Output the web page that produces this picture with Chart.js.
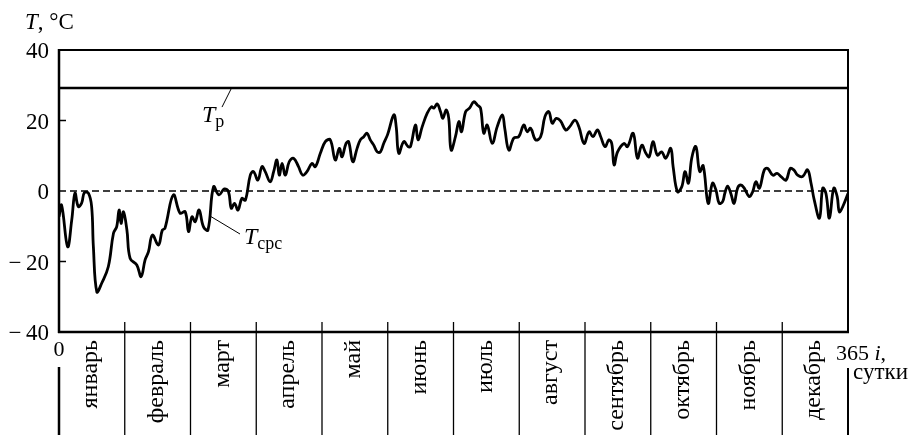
<!DOCTYPE html>
<html lang="ru">
<head>
<meta charset="utf-8">
<title>Температура по суткам</title>
<script src="https://cdn.jsdelivr.net/npm/chart.js@4.4.1/dist/chart.umd.min.js"></script>
<style>
  html, body { margin: 0; padding: 0; background: #fff; }
  #wrap { width: 913px; height: 435px; }
</style>
</head>
<body>
<div id="wrap"><canvas id="tempChart" width="913" height="435"></canvas></div>
<script>
// day of year (i, сутки) and daily mean temperature T_срс, °C
const days = [
  0, 1.2, 4, 5.9, 7.4, 8.9, 10.5, 11.7, 13.6, 15.1, 15.9, 17.5, 19.8, 22.8, 25.2, 26.7,
  27.8, 28.7, 29.8, 31.4, 32.9, 36, 38, 39.8, 41.4, 43.2, 46, 47.8, 49, 52.9, 56, 58.4,
  59.9, 61.5, 63, 64.8, 66.8, 68.9, 71.5, 74, 76.5, 78.4, 79.7, 81.2, 82.8, 84.6, 86.2,
  88.5, 90, 92, 93.9, 95.4, 97.7, 99.3, 100.8, 101.9, 103.2, 104.7, 106.5, 108.5, 110.8,
  112.7, 114.7, 117, 118.6, 120.9, 123.2, 125.5, 127.8, 129.7, 130.9, 132.8, 134, 135.9,
  137.9, 139.4, 141, 142.5, 144, 145.6, 147.2, 148.7, 150.2, 152, 154.9, 156, 157.2,
  159.5, 161.5, 162.6, 164.9, 166.1, 168, 170.3, 172.3, 173.4, 175, 176.5, 177.6, 179.1,
  180.3, 181.4, 183.4, 185, 186.2, 188.1, 189.9, 191.9, 193.5, 195, 196.5, 198.1, 200.4,
  202.7, 205.1, 206.2, 208.1, 210.4, 212.7, 215, 216.6, 218.2, 220.5, 222.8, 224.8,
  226.6, 228.2, 230, 232, 234.4, 236.2, 238.7, 240.5, 242.9, 245.2, 247, 249.1, 250.6,
  252.6, 254.4, 255.7, 256.8, 258.4, 261.4, 263, 265.6, 267.6, 269.6, 271.5, 273, 274.8,
  276.8, 278.8, 280.7, 283, 284.1, 286.1, 288.1, 289.6, 291.2, 292.7, 294.6, 296.4, 298,
  300.3, 302.3, 303.9, 305.4, 307, 308, 309.3, 310.8, 312.3, 313.9, 315.4, 317, 319.3,
  320.9, 322.4, 324, 326.3, 327.9, 330.2, 332.2, 334, 336.3, 338.3, 339.9, 341.7, 344,
  346.3, 347.9, 349.4, 351.8, 353.3, 354.8, 356.4, 358.4, 360, 361, 362.6, 365
];
const tDaily = [
  -7.3, -4, -15.8, -8.2, -0.6, -4.4, -3.4, -0.5, -0.6, -4.4, -15.8, -28.6, -26.1, -21.5, -12, -10.1,
  -5.4, -9.2, -5.9, -11, -19.1, -21, -24.3, -19.6, -17.2, -12.5, -15.3, -11.1, -10.6, -1.1, -6.3, -5.9,
  -11.5, -7.3, -8.7, -5.4, -10.1, -11.1, 1.2, -1.1, 0.6, -0.2, -4.9, -3.5, -5.4, -2.1, -2.6,
  4.5, 5.5, 3.1, 6.9, 5.5, 2.6, 5.5, 8.8, 4.5, 7.8, 4.5, 8.3, 9.3, 6.9,
  4.5, 5.5, 7.8, 6.9, 10.7, 14, 14.5, 8.8, 12.1, 9.7, 13.5, 14, 8.3,
  12.1, 14.5, 15.4, 16.4, 14.5, 13, 11.1, 11.1, 13.5, 16, 21.6, 18.2, 10.7,
  14, 12.6, 12.6, 18.7, 14.5, 18.2, 22, 23.9, 23.5, 24.7, 22.5, 20.6, 23,
  20.6, 11.6, 15.4, 19.7, 16.8, 22.5, 23.5, 25.3, 24.4, 23.5, 16.4, 18.7, 13.5,
  18.2, 21.6, 17.8, 11.6, 15, 15.4, 18.7, 16.8, 17.8, 14.5, 15.4, 21.1,
  22.5, 19.2, 20.6, 19.9, 17.3, 18.2, 20.1, 18.2, 13.5, 16.8, 15.4, 17.3, 15.4,
  12.6, 14.5, 13.5, 7.4, 11.1, 13.5, 12.6, 16.4, 9.3, 13, 10.7, 9.7, 14,
  10.2, 11.1, 9.3, 12.1, 6.9, -0.2, 1.2, 5.5, 2.2, 9.3, 12.6, 5.5, 7.2,
  -3.5, 2.2, 0.3, -3.5, -3, -0.7, 1.4, -0.7, -3.5, 0.8, 1.7, 0.8, -1.6,
  -0.2, 2.6, 0.8, 6, 6.4, 4.5, 5, 4.1, 3.1, 6.4, 6, 4.5, 4.1,
  6, 2.2, -2.6, -7.7, 0.8, -0.7, -7.7, 0.8, -1.6, -5.9, -4.4, -0.7
];
const tP = 29.2;                     // T_р, constant line
const yTicks = [-40, -20, 0, 20, 40];
const months = ["январь", "февраль", "март", "апрель", "май", "июнь",
                "июль", "август", "сентябрь", "октябрь", "ноябрь", "декабрь"];
const daysInYear = 365;

const SERIF = '"Liberation Serif", "DejaVu Serif", serif';

function lineSeg(ctx, x1, y1, x2, y2, w) {
  ctx.beginPath();
  ctx.lineWidth = w;
  ctx.moveTo(x1, y1);
  ctx.lineTo(x2, y2);
  ctx.stroke();
}

// draws a run of text pieces [str, italic, size, dy]
function runText(ctx, parts, x, y) {
  let cx = x;
  parts.forEach(([s, it, size, dy]) => {
    ctx.font = (it ? "italic " : "") + size + "px " + SERIF;
    ctx.fillText(s, cx, y + (dy || 0));
    cx += ctx.measureText(s).width;
  });
}

const axesPlugin = {
  id: "axesPlugin",
  afterDraw(chart) {
    const ctx = chart.ctx;
    const xs = chart.scales.x, ys = chart.scales.y;
    const a = chart.chartArea;
    const bottom = chart.height;
    ctx.save();
    ctx.strokeStyle = "#000";
    ctx.fillStyle = "#000";
    ctx.lineCap = "butt";

    // frame
    lineSeg(ctx, a.left, a.top, a.right + 1, a.top, 2);
    lineSeg(ctx, a.right, a.top, a.right, a.bottom, 2);
    lineSeg(ctx, a.left - 1, a.bottom, a.right + 1, a.bottom, 2.5);
    lineSeg(ctx, a.left, a.top - 1, a.left, a.bottom + 1, 2.5);

    // inner y ticks
    yTicks.forEach(v => {
      if (v === 20 || v === -20) {
        const py = ys.getPixelForValue(v);
        lineSeg(ctx, a.left, py, a.left + 7, py, 1.5);
      }
    });

    // y tick labels
    ctx.textAlign = "right";
    ctx.textBaseline = "middle";
    ctx.font = "23px " + SERIF;
    yTicks.forEach(v => {
      const py = ys.getPixelForValue(v);
      const s = v < 0 ? "\u2212\u2009" + Math.abs(v) : String(v);
      ctx.fillText(s, a.left - 10, py + 2);
    });

    // month boundaries and labels
    const step = daysInYear / months.length;
    for (let i = 1; i < months.length; i++) {
      const px = xs.getPixelForValue(i * step);
      lineSeg(ctx, px, a.bottom - 10, px, bottom, 1.3);
    }
    lineSeg(ctx, a.left, a.bottom + 35, a.left, bottom, 2.5);
    lineSeg(ctx, a.right, a.bottom + 36, a.right, bottom, 2);

    ctx.font = "24px " + SERIF;
    ctx.textAlign = "right";
    ctx.textBaseline = "middle";
    months.forEach((m, i) => {
      const px = xs.getPixelForValue((i + 0.5) * step);
      ctx.save();
      ctx.translate(px - 1, a.bottom + 8);
      ctx.rotate(-Math.PI / 2);
      ctx.fillText(m, 0, 0);
      ctx.restore();
    });

    // axis titles
    ctx.textAlign = "left";
    ctx.textBaseline = "alphabetic";
    runText(ctx, [["T", true, 23], [", \u00b0C", false, 23]], 25, 29);
    ctx.textAlign = "center";
    ctx.font = "22px " + SERIF;
    ctx.fillText("0", xs.getPixelForValue(0), a.bottom + 24);
    ctx.textAlign = "left";
    runText(ctx, [["365 ", false, 22], ["i", true, 22], [",", false, 22]], a.right - 12, a.bottom + 28);
    ctx.font = "23px " + SERIF;
    ctx.fillText("сутки", a.right + 5, a.bottom + 47);

    // curve labels with leader lines
    const yp = ys.getPixelForValue(tP);
    lineSeg(ctx, 231.5, yp, 222, yp + 19, 1);
    runText(ctx, [["T", true, 24], ["р", false, 18, 5]], 202, yp + 34);
    lineSeg(ctx, 210, 216, 240, 234, 1);
    runText(ctx, [["T", true, 24], ["срс", false, 18, 5]], 244, 244);

    ctx.restore();
  }
};

new Chart(document.getElementById("tempChart"), {
  type: "line",
  data: {
    datasets: [
      {
        label: "T срс",
        data: days.map((d, i) => ({ x: d, y: tDaily[i] })),
        borderColor: "#000",
        borderWidth: 2.8,
        pointRadius: 0,
        tension: 0.4,
        fill: false
      },
      {
        label: "T р",
        data: [{ x: 0, y: tP }, { x: daysInYear, y: tP }],
        borderColor: "#000",
        borderWidth: 2.5,
        pointRadius: 0
      },
      {
        label: "0",
        data: [{ x: 0, y: 0 }, { x: daysInYear, y: 0 }],
        borderColor: "#000",
        borderWidth: 1.4,
        borderDash: [7, 4],
        pointRadius: 0
      }
    ]
  },
  options: {
    responsive: false,
    animation: false,
    events: [],
    layout: { padding: { left: 59, top: 50, right: 65, bottom: 103 } },
    plugins: { legend: { display: false }, tooltip: { enabled: false } },
    scales: {
      x: { type: "linear", min: 0, max: daysInYear, display: false },
      y: { type: "linear", min: -40, max: 40, display: false }
    }
  },
  plugins: [axesPlugin]
});
</script>
</body>
</html>
